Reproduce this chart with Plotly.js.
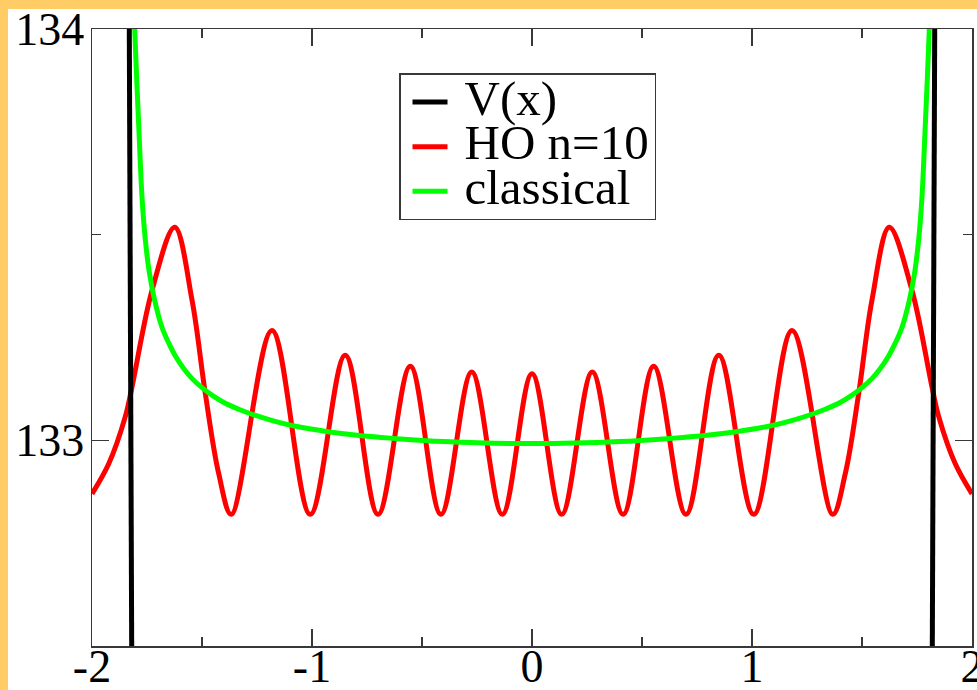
<!DOCTYPE html>
<html><head><meta charset="utf-8">
<script src="https://cdn.plot.ly/plotly-3.0.1.min.js"></script>
<style>
html,body{margin:0;padding:0;background:#FFCC66;width:977px;height:690px;overflow:hidden;}
#chart{position:absolute;left:8px;top:9px;width:969px;height:681px;background:#fff;}
</style></head><body><div id="chart"></div>
<script>
// Potential V(x): two nearly vertical branches (gap between them)
const potX = [-1.8305, -1.8196, null, 1.8196, 1.8305];
const potY = [134.000, 132.500, null, 132.500, 134.000];

// Quantum HO n=10 probability density (shifted), read at edges, peaks and troughs
const hoX = [-2.000, -1.924, -1.849, -1.818, -1.727, -1.624, -1.545, -1.485, -1.424, -1.367,
  -1.182, -1.008, -0.849, -0.700, -0.553, -0.414, -0.274, -0.135, 0.000,
  0.135, 0.274, 0.414, 0.553, 0.700, 0.849, 1.008, 1.182,
  1.367, 1.424, 1.485, 1.545, 1.624, 1.727, 1.818, 1.849, 1.924, 2.000];
const hoY = [132.870, 132.943, 133.057, 133.130, 133.365, 133.518, 133.340, 133.114, 132.919, 132.820,
  133.267, 132.820, 133.207, 132.820, 133.180, 132.820, 133.166, 132.820, 133.162,
  132.820, 133.166, 132.820, 133.180, 132.820, 133.207, 132.820, 133.267,
  132.820, 132.919, 133.114, 133.340, 133.518, 133.365, 133.130, 133.057, 132.943, 132.870];

// Classical probability density (shifted)
const clX = [-1.806, -1.797, -1.788, -1.772, -1.758, -1.740, -1.715, -1.682, -1.650, -1.621, -1.580, -1.545,
  -1.500, -1.450, -1.394, -1.330, -1.276, -1.180, -1.091, -0.927, -0.773, -0.636, -0.400, 0.000,
  0.400, 0.636, 0.773, 0.927, 1.091, 1.180, 1.276, 1.330, 1.394, 1.450, 1.500,
  1.545, 1.580, 1.621, 1.650, 1.682, 1.715, 1.740, 1.758, 1.772, 1.788, 1.797, 1.806];
const clY = [134.000, 133.880, 133.770, 133.585, 133.490, 133.410, 133.340, 133.275, 133.235, 133.205, 133.172, 133.150,
  133.128, 133.108, 133.090, 133.075, 133.064, 133.048, 133.036, 133.021, 133.011, 133.005, 132.997, 132.992,
  132.997, 133.005, 133.011, 133.021, 133.036, 133.048, 133.064, 133.075, 133.090, 133.108, 133.128,
  133.150, 133.172, 133.205, 133.235, 133.275, 133.340, 133.410, 133.490, 133.585, 133.770, 133.880, 134.000];

const xTickVals = [-2, -1, 0, 1, 2];
const xTickText = ['-2', '-1', '0', '1', '2'];
const xMinor = [-1.5, -0.5, 0.5, 1.5];
const yTickVals = [133, 134];
const yTickText = ['133', '134'];
const yMinor = [132.5, 133.5];

const names = ['V(x)', 'HO n=10', 'classical'];
const big = s => '<span style="font-size:48px">\u00A0</span><span style="font-size:49px">' + s + '</span>';

const serif = 'Liberation Serif, Times New Roman, serif';
const axCol = '#383838';

const traces = [
  {x: hoX, y: hoY, type: 'scatter', mode: 'lines', name: big(names[1]), legendrank: 2,
   line: {color: '#FF0000', width: 5, shape: 'spline', smoothing: 1}},
  {x: clX, y: clY, type: 'scatter', mode: 'lines', name: big(names[2]), legendrank: 3,
   line: {color: '#00FF00', width: 5, shape: 'spline', smoothing: 1}},
  {x: potX, y: potY, type: 'scatter', mode: 'lines', name: big(names[0]), legendrank: 1,
   connectgaps: false, line: {color: '#000000', width: 5}}
];

const axisCommon = {
  ticks: 'inside', ticklen: 17, tickwidth: 1.5, tickcolor: axCol,
  showline: true, linecolor: axCol, linewidth: 1.5, mirror: 'allticks',
  showgrid: false, zeroline: false, ticklabeloverflow: 'allow',
  tickfont: {family: serif, size: 46, color: '#000'}
};

const layout = {
  width: 969, height: 681,
  margin: {l: 84, r: 5, t: 20, b: 44},
  paper_bgcolor: '#ffffff', plot_bgcolor: '#ffffff',
  showlegend: true,
  xaxis: Object.assign({}, axisCommon, {
    range: [-2, 2], tickmode: 'array', tickvals: xTickVals, ticktext: xTickText,
    ticklabelstandoff: -21,
    minor: {tickmode: 'array', tickvals: xMinor, ticks: 'inside', ticklen: 9, tickwidth: 1.5, tickcolor: axCol, showgrid: false}
  }),
  yaxis: Object.assign({}, axisCommon, {
    range: [132.5, 134], tickmode: 'array', tickvals: yTickVals, ticktext: yTickText,
    ticklabelstandoff: -3,
    minor: {tickmode: 'array', tickvals: yMinor, ticks: 'inside', ticklen: 9, tickwidth: 1.5, tickcolor: axCol, showgrid: false}
  }),
  legend: {
    x: (391 - 84) / 880, xanchor: 'left', y: (636.7 - 64) / 617, yanchor: 'top',
    bgcolor: '#ffffff', bordercolor: axCol, borderwidth: 1.5,
    font: {family: serif, size: 32, color: '#000'}, itemwidth: 35, indentation: 7
  }
};

Plotly.newPlot('chart', traces, layout, {displayModeBar: false, staticPlot: true});
</script></body></html>
